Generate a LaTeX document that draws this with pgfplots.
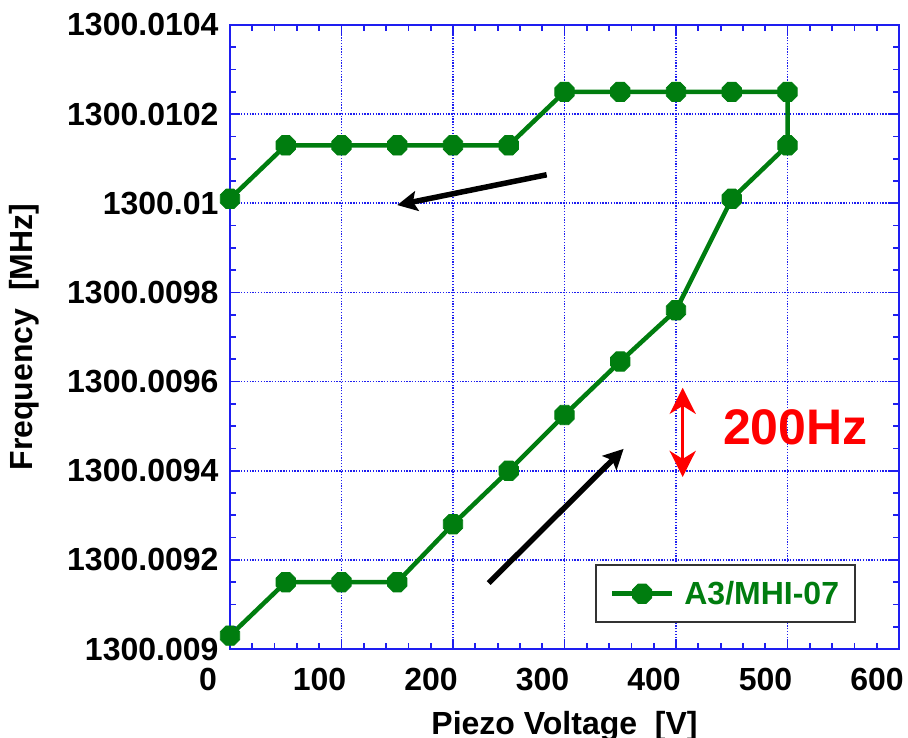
\documentclass[border=0pt]{standalone}
\usepackage{fontspec}
\setmainfont{Liberation Sans}
\usepackage{pgfplots}
\pgfplotsset{compat=1.18}
\usetikzlibrary{arrows.meta}
\definecolor{pgreen}{RGB}{0,125,15}
\definecolor{pblue}{RGB}{30,30,240}
\pgfdeclareplotmark{oct}{%
  \pgfpathmoveto{\pgfpointpolar{22.5}{\pgfplotmarksize}}%
  \pgfpathlineto{\pgfpointpolar{67.5}{\pgfplotmarksize}}%
  \pgfpathlineto{\pgfpointpolar{112.5}{\pgfplotmarksize}}%
  \pgfpathlineto{\pgfpointpolar{157.5}{\pgfplotmarksize}}%
  \pgfpathlineto{\pgfpointpolar{202.5}{\pgfplotmarksize}}%
  \pgfpathlineto{\pgfpointpolar{247.5}{\pgfplotmarksize}}%
  \pgfpathlineto{\pgfpointpolar{292.5}{\pgfplotmarksize}}%
  \pgfpathlineto{\pgfpointpolar{337.5}{\pgfplotmarksize}}%
  \pgfpathclose\pgfusepathqfillstroke}
\begin{document}
\begin{tikzpicture}
% y values: frequency offset in Hz above 1300.009 MHz (TeX arithmetic cannot hold 1300.00903 exactly)
\begin{axis}[
  name=ax,
  scale only axis,
  width=669pt, height=624pt,
  xmin=0, xmax=600, ymin=0, ymax=1400,
  xtick={0,100,...,600},
  ytick={0,200,...,1400},
  yticklabels={1300.009,1300.0092,1300.0094,1300.0096,1300.0098,1300.01,1300.0102,1300.0104},
  minor x tick num=4,
  minor y tick num=3,
  tick align=inside,
  major tick length=10pt,
  minor tick length=6pt,
  every tick/.style={pblue, line width=1.8pt},
  axis line style={pblue, line width=2.2pt},
  grid=major,
  major grid style={pblue, line width=1.6pt, dash pattern=on 1.3pt off 1.5pt},
  /pgf/number format/assume math mode=true,
  tick label style={font=\fontsize{32}{38}\selectfont\bfseries, black},
  xticklabel style={xshift=-22pt, yshift=-16pt},
  yticklabel style={xshift=-8pt},
  xlabel={Piezo Voltage\ \ [V]},
  ylabel={Frequency\ \ [MHz]},
  label style={font=\fontsize{32}{38}\selectfont\bfseries, black},
  xlabel style={at={(axis description cs:0.5,0)}, anchor=north, yshift=-59pt},
  ylabel style={at={(axis description cs:0,0.5)}, anchor=center, yshift=206pt},
  legend style={at={(axis description cs:0.9357,0.0417)}, anchor=south east,
    draw=black!80, line width=1.8pt, fill=white, inner xsep=14pt, inner ysep=14pt,
    column sep=8pt,
    font=\fontsize{32}{38}\selectfont\bfseries, text=pgreen},
  legend cell align=left,
  legend image code/.code={%
    \draw[mark repeat=2, mark phase=2, #1] plot coordinates {(0pt,0pt) (30pt,0pt) (60pt,0pt)};},
]
\addplot[pgreen, line width=4.5pt, mark=oct, mark size=10.5pt,
  mark options={fill=pgreen, draw=pgreen, line width=0.8pt}] coordinates {
  (0,30) (50,150) (100,150) (150,150) (200,280) (250,400) (300,525) (350,645)
  (400,760) (450,1010) (500,1130) (500,1250) (450,1250) (400,1250) (350,1250)
  (300,1250) (250,1130) (200,1130) (150,1130) (100,1130) (50,1130) (0,1010)
};
\addlegendentry{A3/MHI-07}
\draw[black, line width=5.5pt, -{Stealth[length=20pt,width=20pt,inset=4pt]}] (axis cs:284,1064) -- (axis cs:150,996);
\draw[black, line width=5.5pt, -{Stealth[length=20pt,width=20pt,inset=4pt]}] (axis cs:232,148) -- (axis cs:353,449);
\draw[red, line width=3.5pt, {Stealth[length=26pt,width=26pt,inset=8pt]}-{Stealth[length=26pt,width=26pt,inset=8pt]}] (axis cs:406,586) -- (axis cs:406,386);
\node[red, font=\fontsize{50}{58}\selectfont\bfseries] at (axis cs:507,498) {200Hz};
\end{axis}
\pgfresetboundingbox
\path[use as bounding box] ([shift={(-230pt,-88pt)}]ax.south west) rectangle ([shift={(9pt,25pt)}]ax.north east);
\end{tikzpicture}
\end{document}
